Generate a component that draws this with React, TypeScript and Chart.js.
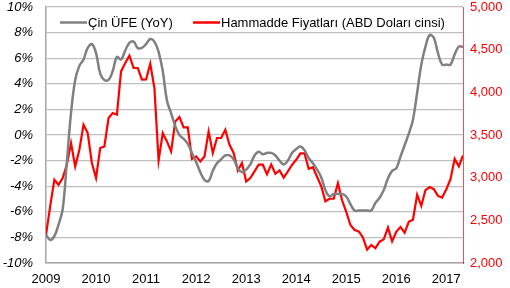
import React, { useEffect, useRef } from "react";
import { Chart, registerables } from "chart.js";

Chart.register(...registerables);

const YEAR_LABELS = ["2009", "2010", "2011", "2012", "2013", "2014", "2015", "2016", "2017"];

const PPI_LABEL = "Çin ÜFE (YoY)";
const COMMODITY_LABEL = "Hammadde Fiyatları (ABD Doları cinsi)";

// China PPI YoY, monthly (%)
const PPI = [
  -7.8, -8.2, -7.9, -7.0, -5.8, -2.1, 1.7,
  4.3, 5.4, 5.9, 6.8, 7.1, 6.4, 4.8, 4.3, 4.3, 5.0, 6.1, 5.9,
  6.6, 7.2, 7.3, 6.8, 6.8, 7.1, 7.5, 7.3, 6.5, 5.0, 2.7, 1.7,
  0.7, 0.0, -0.3, -0.7, -1.4, -2.1, -2.9, -3.5, -3.6, -2.8, -2.2, -1.9,
  -1.6, -1.6, -1.9, -2.6, -2.9, -2.7, -2.3, -1.6, -1.3, -1.5, -1.4, -1.4,
  -1.6, -2.0, -2.3, -2.0, -1.4, -1.1, -0.9, -1.2, -1.8, -2.2, -2.7, -3.3,
  -4.3, -4.8, -4.6, -4.6, -4.6, -4.8, -5.4, -5.9, -5.9, -5.9, -5.9, -5.9,
  -5.3, -4.9, -4.3, -3.4, -2.8, -2.6, -1.7, -0.8, 0.1, 1.2, 3.3, 5.5,
  6.9, 7.8, 7.6, 6.4, 5.5, 5.5, 5.5, 6.3, 6.9, 6.9,
];

// Commodity prices (USD), monthly
const COMMODITY = [
  2331, 2663, 2976, 2917, 2996, 3152, 3406, 3132, 3328, 3620,
  3523, 3172, 2996, 3347, 3366, 3699, 3758, 3738, 4245, 4344,
  4429, 4285, 4285, 4148, 4150, 4336, 4050, 3202, 3523, 3425,
  3308, 3659, 3711, 3589, 3589, 3219, 3249, 3190, 3249, 3542,
  3289, 3465, 3465, 3562, 3386, 3289, 3085, 3172, 2956, 2996,
  3073, 3152, 3152, 3040, 3155, 3046, 3085, 3000, 3073, 3150,
  3210, 3285, 3285, 3103, 3122, 3010, 2900, 2724, 2753, 2753,
  2935, 2735, 2600, 2445, 2386, 2370, 2300, 2156, 2210, 2175,
  2250, 2277, 2415, 2255, 2366, 2423, 2356, 2483, 2507, 2800,
  2670, 2855, 2890, 2865, 2786, 2767, 2865, 2982, 3220, 3132,
  3261,
];

const FONT = "'Liberation Sans', Arial, sans-serif";
const GRAY = "#808080";
const RED = "#ff0000";

const legendPlugin = {
  id: "insideLegend",
  afterDraw(chart: any) {
    const ctx = chart.ctx;
    ctx.save();
    ctx.font = `13px ${FONT}`;
    ctx.textBaseline = "middle";
    ctx.textAlign = "left";
    const y = 22.5;
    const items = [
      { x: 60, color: GRAY, width: 2.5, text: PPI_LABEL },
      { x: 193, color: RED, width: 2.5, text: COMMODITY_LABEL },
    ];
    for (const it of items) {
      ctx.strokeStyle = it.color;
      ctx.lineWidth = it.width;
      ctx.beginPath();
      ctx.moveTo(it.x, y);
      ctx.lineTo(it.x + 27, y);
      ctx.stroke();
      ctx.fillStyle = "#000";
      ctx.fillText(it.text, it.x + 28, y + 0.5);
    }
    ctx.restore();
  },
};

const zeroVPad = (scale: any) => {
  scale.paddingTop = 0;
  scale.paddingBottom = 0;
};

export default function App() {
  const ref = useRef<HTMLCanvasElement | null>(null);

  useEffect(() => {
    if (!ref.current) return;
    const ppiPts = PPI.map((v, i) => ({ x: i, y: v }));
    const comPts = COMMODITY.map((v, i) => ({ x: i, y: v }));
    const yearTicks = YEAR_LABELS.map((_, k) => k * 12);

    const chart = new Chart(ref.current, {
      type: "line",
      data: {
        datasets: [
          {
            label: PPI_LABEL,
            data: ppiPts,
            borderColor: GRAY,
            borderWidth: 2.5,
            pointRadius: 0,
            tension: 0.4,
            yAxisID: "y",
          },
          {
            label: COMMODITY_LABEL,
            data: comPts,
            borderColor: RED,
            borderWidth: 2.2,
            pointRadius: 0,
            tension: 0,
            yAxisID: "y1",
          },
        ],
      },
      options: {
        animation: false,
        responsive: false,
        layout: { padding: { top: 7, left: 0, right: 0, bottom: 0 } },
        plugins: {
          legend: { display: false },
          tooltip: { enabled: false },
        },
        scales: {
          x: {
            type: "linear",
            min: 0,
            max: PPI.length - 1,
            grid: { display: false, drawTicks: false },
            border: { display: true, color: "#a6a6a6", width: 1.5 },
            afterBuildTicks: (scale: any) => {
              scale.ticks = yearTicks.map((v) => ({ value: v }));
            },
            afterFit: (scale: any) => {
              scale.height = 25;
              scale.paddingLeft = 0;
              scale.paddingRight = 0;
            },
            ticks: {
              autoSkip: false,
              maxRotation: 0,
              padding: 9,
              color: "#000",
              font: { family: FONT, size: 13 },
              callback: (v: any) => YEAR_LABELS[Math.round(Number(v) / 12)] ?? "",
            },
          },
          y: {
            position: "left",
            min: -10,
            max: 10,
            grid: { color: "#bfbfbf", lineWidth: 1.2, drawTicks: false },
            border: { display: true, color: "#a6a6a6", width: 1.5 },
            afterFit: (scale: any) => {
              scale.width = 46;
              zeroVPad(scale);
            },
            ticks: {
              stepSize: 2,
              padding: 13,
              color: "#000",
              font: { family: FONT, size: 13, style: "italic" },
              callback: (v: any) => `${v}%`,
            },
          },
          y1: {
            position: "right",
            min: 2000,
            max: 5000,
            grid: { display: false, drawTicks: false },
            border: { display: true, color: "rgba(255,0,0,0.7)", width: 1 },
            afterFit: (scale: any) => {
              scale.width = 47;
              zeroVPad(scale);
            },
            ticks: {
              stepSize: 500,
              padding: 7,
              color: RED,
              font: { family: FONT, size: 13 },
              callback: (v: any) => Number(v).toLocaleString("en-US"),
            },
          },
        },
      },
      plugins: [legendPlugin],
    });
    return () => chart.destroy();
  }, []);

  return (
    <div style={{ position: "absolute", left: 0, top: 0, width: 510, height: 288, background: "#fff" }}>
      <canvas ref={ref} width={510} height={288} style={{ display: "block" }} />
    </div>
  );
}
